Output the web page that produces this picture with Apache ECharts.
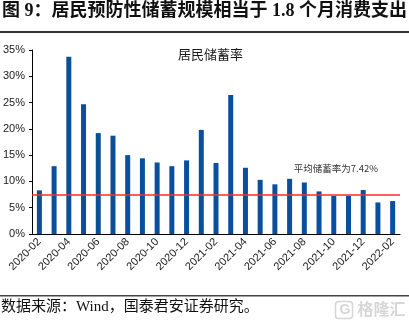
<!DOCTYPE html>
<html>
<head>
<meta charset="utf-8">
<script src="https://cdn.jsdelivr.net/npm/echarts@6/dist/echarts.min.js"></script>
<style>
  html, body { margin: 0; padding: 0; background: #fff; }
  #chart { width: 409px; height: 322px; }
</style>
</head>
<body>
<div id="chart"></div>
<script>
// Monthly household savings rate, %
const months = [
  '2020-02', '2020-03', '2020-04', '2020-05', '2020-06', '2020-07', '2020-08',
  '2020-09', '2020-10', '2020-11', '2020-12', '2021-01', '2021-02', '2021-03',
  '2021-04', '2021-05', '2021-06', '2021-07', '2021-08', '2021-09', '2021-10',
  '2021-11', '2021-12', '2022-01', '2022-02'
];
const savingsRate = [
  8.3, 12.9, 33.7, 24.7, 19.2, 18.7, 15.0,
  14.4, 13.6, 12.9, 14.0, 19.8, 13.5, 26.45,
  12.6, 10.3, 9.45, 10.5, 9.8, 8.1, 7.27,
  7.27, 8.36, 6.0, 6.27
];
const averageRate = 7.42;
const yTicks = [0, 5, 10, 15, 20, 25, 30, 35];

const seriesName = '居民储蓄率';
const titleText = '图 9：居民预防性储蓄规模相当于 1.8 个月消费支出';
const sourceText = '数据来源：Wind，国泰君安证券研究。';
const averageLabel = '平均储蓄率为' + averageRate.toFixed(2) + '%';

const CJK = '"Liberation Serif", "Noto Sans CJK SC", serif';
const SANS = '"Liberation Sans", Arial, sans-serif';

const chart = echarts.init(document.getElementById('chart'), null, { renderer: 'canvas' });

chart.setOption({
  animation: false,
  backgroundColor: '#ffffff',
  grid: { left: 30, right: 9, top: 50, bottom: 88, containLabel: false },
  legend: {
    data: [seriesName],
    left: 168,
    top: 44,
    itemWidth: 0,
    itemHeight: 0,
    itemGap: 0,
    textStyle: { fontFamily: CJK, fontSize: 13, color: '#1a1a1a' }
  },
  xAxis: {
    type: 'category',
    data: months,
    boundaryGap: true,
    axisLine: { lineStyle: { color: '#000', width: 1 } },
    axisTick: { interval: 1, length: 4, lineStyle: { color: '#000' } },
    axisLabel: {
      interval: 1,
      rotate: 45,
      margin: 6,
      fontFamily: SANS,
      fontSize: 11,
      color: '#1a1a1a'
    },
    splitLine: { show: false }
  },
  yAxis: {
    type: 'value',
    min: yTicks[0],
    max: yTicks[yTicks.length - 1],
    interval: yTicks[1] - yTicks[0],
    axisLine: { show: true, lineStyle: { color: '#000', width: 1 } },
    axisTick: { show: true, length: 3, lineStyle: { color: '#000' } },
    axisLabel: {
      formatter: '{value}%',
      margin: 7,
      fontFamily: SANS,
      fontSize: 11,
      color: '#1a1a1a'
    },
    splitLine: { show: false }
  },
  series: [{
    name: seriesName,
    type: 'bar',
    data: savingsRate,
    barWidth: 5,
    itemStyle: { color: '#0a4f9c' },
    markLine: {
      silent: true,
      symbol: 'none',
      lineStyle: { color: '#ff2a2a', width: 1.5, type: 'solid' },
      label: {
        show: true,
        position: 'insideEndTop',
        distance: 22,
        formatter: averageLabel,
        fontFamily: '"Noto Sans CJK SC", sans-serif',
        fontSize: 9.5,
        color: '#333'
      },
      data: [{ yAxis: averageRate }]
    }
  }],
  graphic: [
    {
      type: 'text',
      left: 2,
      top: 2,
      style: {
        text: titleText,
        font: 'bold 18px ' + CJK,
        fill: '#111'
      }
    },
    {
      type: 'rect',
      shape: { x: 0, y: 31, width: 409, height: 2 },
      style: { fill: '#333' }
    },
    {
      type: 'rect',
      shape: { x: 0, y: 295, width: 409, height: 1.5 },
      style: { fill: '#444' }
    },
    {
      type: 'text',
      left: 1,
      top: 300,
      style: {
        text: sourceText,
        font: '15px ' + CJK,
        fill: '#111'
      }
    },
    {
      type: 'group',
      left: 333,
      top: 299,
      children: [
        {
          type: 'rect',
          shape: { x: 0, y: 0, width: 17, height: 17, r: 3 },
          style: { fill: 'none', stroke: '#d6d6d6', lineWidth: 1.5 }
        },
        {
          type: 'text',
          style: { x: 4, y: 1.5, text: 'G', font: 'bold 14px ' + SANS, fill: '#d6d6d6' }
        },
        {
          type: 'text',
          style: { x: 22, y: -1, text: '格隆汇', font: 'bold 16px "Noto Sans CJK SC", sans-serif', fill: '#d6d6d6' }
        }
      ]
    }
  ]
});
</script>
</body>
</html>
